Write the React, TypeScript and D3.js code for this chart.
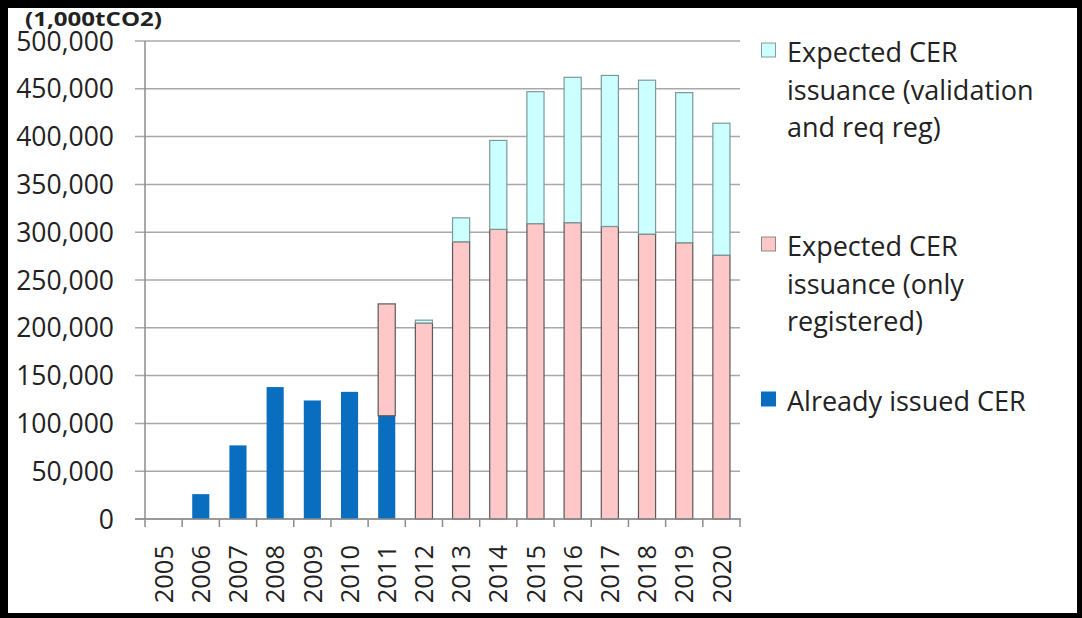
import React from "react";
import * as d3 from "d3";

const years = ["2005","2006","2007","2008","2009","2010","2011","2012","2013","2014","2015","2016","2017","2018","2019","2020"];
const issued = [0, 26000, 77000, 138000, 124000, 133000, 108000, 0, 0, 0, 0, 0, 0, 0, 0, 0];
const registered = [0, 0, 0, 0, 0, 0, 117000, 205000, 290000, 303000, 309000, 310000, 306000, 298000, 289000, 276000];
const validation = [0, 0, 0, 0, 0, 0, 0, 3000, 25000, 93000, 138000, 152000, 158000, 161000, 157000, 138000];
const yTicks = [0, 50000, 100000, 150000, 200000, 250000, 300000, 350000, 400000, 450000, 500000];
const unitLabel = "(1,000tCO2)";
const legendItems = [
  { lines: ["Expected CER", "issuance (validation", "and req reg)"], color: "#ccffff", stroke: "#8a9a9a" },
  { lines: ["Expected CER", "issuance (only", "registered)"], color: "#ffc8c8", stroke: "#8a8a8a" },
  { lines: ["Already issued CER"], color: "#0a6ec0", stroke: "#0a6ec0" },
];

const W = 1082, H = 618;
const FONT = "'Open Sans', 'DejaVu Sans', sans-serif";

export default function App() {
  const x = d3.scaleBand<string>().domain(years).range([145, 740]).paddingInner(0.54).paddingOuter(0.27);
  const y = d3.scaleLinear().domain([0, 500000]).range([519, 41]);
  const step = x.step();
  const fmt = d3.format(",");
  const series = [
    { vals: issued, color: "#0a6ec0", stroke: "none" },
    { vals: registered, color: "#ffc8c8", stroke: "#5a5a5a" },
    { vals: validation, color: "#ccffff", stroke: "#7e9898" },
  ];
  const legendY = [43, 237, 392];

  return (
    <svg width={W} height={H} style={{ position: "absolute", left: 0, top: 0, background: "#fff" }} fontFamily={FONT}>
      <rect x={0} y={0} width={W} height={H} fill="#fff" />
      {/* gridlines */}
      {yTicks.map((t) => (
        <line key={"g" + t} x1={135} x2={740} y1={y(t)} y2={y(t)} stroke="#a8a8a8" strokeWidth={1.5} />
      ))}
      {yTicks.map((t) => (
        <text key={"yl" + t} x={114} y={y(t)} dy="0.36em" textAnchor="end" fontSize={26.5} fill="#222">
          {fmt(t)}
        </text>
      ))}
      <text x={25} y={26} fontSize={20} fontWeight="bold" fill="#222" textLength={137} lengthAdjust="spacingAndGlyphs">{unitLabel}</text>
      {/* bars */}
      {years.map((yr, i) => {
        let base = 0;
        return (
          <g key={yr}>
            {series.map((s, k) => {
              const v = s.vals[i];
              const y0 = base;
              base += v;
              if (v <= 0) return null;
              return (
                <rect key={k} x={x(yr)} y={y(y0 + v)} width={x.bandwidth()} height={y(y0) - y(y0 + v)}
                  fill={s.color} stroke={s.stroke} strokeWidth={s.stroke === "none" ? 0 : 1.2} />
              );
            })}
          </g>
        );
      })}
      {/* axes */}
      <line x1={145} x2={145} y1={41} y2={519} stroke="#8c8c8c" strokeWidth={1.5} />
      <line x1={135} x2={741} y1={519} y2={519} stroke="#8c8c8c" strokeWidth={1.5} />
      {d3.range(years.length + 1).map((i) => (
        <line key={"xt" + i} x1={145 + i * step} x2={145 + i * step} y1={519} y2={527} stroke="#8c8c8c" strokeWidth={1.5} />
      ))}
      {years.map((yr) => {
        const cx = (x(yr) as number) + x.bandwidth() / 2;
        return (
          <text key={"xl" + yr} transform={`translate(${cx},545) rotate(-90)`} textAnchor="end" dy="0.36em" fontSize={25.5} fill="#222">
            {yr}
          </text>
        );
      })}
      {/* legend */}
      {legendItems.map((it, k) => (
        <g key={"lg" + k}>
          <rect x={761.5} y={legendY[k]} width={14} height={14} fill={it.color} stroke={it.stroke} strokeWidth={1} />
          {it.lines.map((ln, j) => (
            <text key={j} x={787} y={legendY[k] + 19 + j * 37.5} fontSize={27} fill="#222">{ln}</text>
          ))}
        </g>
      ))}
      {/* frame */}
      <rect x={4} y={4} width={W - 6.5} height={H - 6.5} fill="none" stroke="#000" strokeWidth={5} />
      <rect x={0} y={0} width={8} height={H} fill="#000" />
      <rect x={0} y={0} width={W} height={8} fill="#000" />
    </svg>
  );
}
